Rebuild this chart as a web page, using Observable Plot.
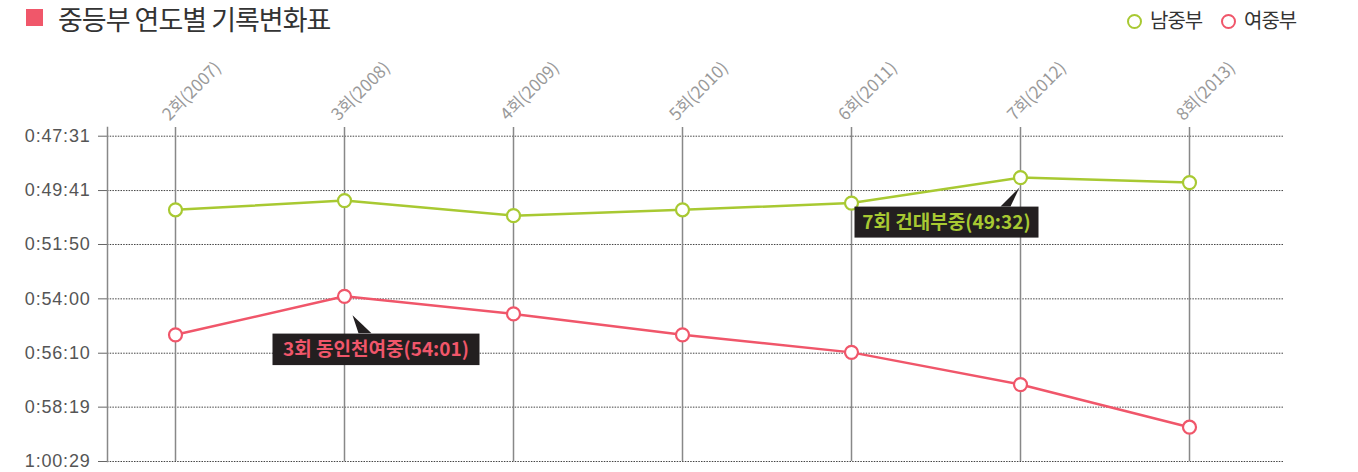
<!DOCTYPE html>
<html><head><meta charset="utf-8">
<script src="https://cdn.jsdelivr.net/npm/d3@7"></script>
<script src="https://cdn.jsdelivr.net/npm/@observablehq/plot@0.6"></script>
<style>
body{margin:0;background:#fff;font-family:"Noto Sans CJK KR",sans-serif;}
#wrap{position:relative;width:1358px;height:472px;overflow:hidden}
#head{position:relative;height:50px;}
#sq{position:absolute;left:26px;top:9px;width:17px;height:17px;background:#f0576a}
#title{position:absolute;left:58px;top:3px;font-size:27px;line-height:32px;color:#333;letter-spacing:-1px;white-space:nowrap}
.lg{position:absolute;top:6px;font-size:20px;color:#333;letter-spacing:-1px;white-space:nowrap;line-height:28px}
.lg i{display:inline-block;width:11px;height:11px;border-radius:50%;border:2.5px solid;margin-right:8px;vertical-align:-1px}
#chart svg{overflow:visible;display:block}
</style></head><body>
<div id="wrap">
  <div id="head">
    <div id="sq"></div>
    <div id="title">중등부 연도별 기록변화표</div>
    <div id="legend"></div>
  </div>
  <div id="chart"></div>
</div>
<script>
// categories (rounds)
const rounds = ["2회(2007)", "3회(2008)", "4회(2009)", "5회(2010)", "6회(2011)", "7회(2012)", "8회(2013)"];
// series names & colours
const seriesNames = ["남중부", "여중부"];
const seriesColors = ["#a8c932", "#f0566a"];
// series values: record time in seconds
const boysSec  = [3027, 3005, 3041, 3027, 3011, 2950, 2962];
const girlsSec = [3326, 3234, 3276, 3326, 3368, 3445, 3547];
// y tick values (seconds): 0:47:31 ... 1:00:29
const yTicks = [2851, 2981, 3110, 3240, 3370, 3499, 3629];
// annotations
const noteSeries = ["여중부", "남중부"];
const noteRounds = ["3회(2008)", "7회(2012)"];
const noteLabels = ["3회 동인천여중(54:01)", "7회 건대부중(49:32)"];

const fmt = s => {
  s = Math.round(s);
  const h = Math.floor(s / 3600), m = Math.floor((s % 3600) / 60), sec = s % 60;
  return `${h}:${String(m).padStart(2, "0")}:${String(sec).padStart(2, "0")}`;
};

const data = [];
rounds.forEach((r, i) => {
  data.push({round: r, series: seriesNames[0], t: boysSec[i]});
  data.push({round: r, series: seriesNames[1], t: girlsSec[i]});
});
const notes = noteLabels.map((label, i) => {
  const d = data.find(d => d.series === noteSeries[i] && d.round === noteRounds[i]);
  return {...d, label};
});
const colorOf = s => seriesColors[seriesNames.indexOf(s)];

// legend
const lg = document.getElementById("legend");
const lgLeft = [1127, 1221];
seriesNames.forEach((n, i) => {
  const el = document.createElement("div");
  el.className = "lg";
  el.style.left = lgLeft[i] + "px";
  el.innerHTML = `<i style="border-color:${seriesColors[i]}"></i>${n}`;
  lg.appendChild(el);
});

const chart = Plot.plot({
  width: 1358,
  height: 422,
  marginTop: 77,
  marginBottom: 11,
  marginLeft: 107,
  marginRight: 75,
  style: {fontFamily: "'Noto Sans CJK KR', sans-serif", background: "transparent", overflow: "visible"},
  x: {type: "point", domain: rounds, padding: 0, insetLeft: 68, insetRight: 94, axis: null},
  y: {type: "linear", domain: [yTicks[0], yTicks[yTicks.length - 1]], reverse: true, insetTop: 8.7, axis: null, label: null},
  marks: [
    Plot.gridY({ticks: yTicks, stroke: "#444", strokeOpacity: 1, strokeDasharray: "1.5,1.2"}),
    Plot.axisY({ticks: yTicks, tickFormat: fmt, label: null, tickSize: 9, tickPadding: 8, stroke: "#666", fill: "#555", fontSize: 18, fontFamily: "'Liberation Sans', Arial, sans-serif"}),
    Plot.frame({anchor: "left", stroke: "#888", strokeWidth: 1.5}),
    Plot.ruleX(rounds, {x: d => d, stroke: "#888", strokeWidth: 1.5}),
    Plot.text(rounds, {x: d => d, frameAnchor: "top", text: d => d, rotate: -45, textAnchor: "start", lineAnchor: "bottom", dx: -6, dy: -6, fill: "#999", fontSize: 17}),
    Plot.line(data, {x: "round", y: "t", z: "series", stroke: d => colorOf(d.series), strokeWidth: 2.5}),
    Plot.dot(data, {x: "round", y: "t", r: 6.5, fill: "white", stroke: d => colorOf(d.series), strokeWidth: 2.2}),
    Plot.text(notes, {x: "round", y: "t", text: "label", fill: d => colorOf(d.series), fontSize: 19, fontWeight: "bold"})
  ]
});
document.getElementById("chart").appendChild(chart);

const sx = chart.scale("x"), sy = chart.scale("y");
const svg = d3.select(chart);
svg.selectAll('[aria-label="y-axis tick label"] text').style("letter-spacing", "0.8px");

// note offsets relative to the data point (box centre / pointer geometry)
const noteBox = [
  {dx: 31.5, dy: 53, w: 207, h: 31.5, tip: [8, 19], base: [[14, 37], [27, 37]]},
  {dx: -74, dy: 44.5, w: 184, h: 31, tip: [-1, 10], base: [[-20, 29], [-10, 29]]}
];
const noteTexts = svg.selectAll("text").filter(function(){ return noteLabels.includes(this.textContent); });
noteTexts.each(function() {
  const i = noteLabels.indexOf(this.textContent);
  const d = notes[i], b = noteBox[i];
  const px = sx.apply(d.round), py = sy.apply(d.t);
  const g = d3.select(this.parentNode);
  d3.select(this).attr("x", px + b.dx).attr("y", py + b.dy).attr("dy", "0.36em").attr("text-anchor", "middle").attr("transform", null);
  g.insert("rect", function(){ return this.firstChild; })
    .attr("x", px + b.dx - b.w / 2).attr("y", py + b.dy - b.h / 2)
    .attr("width", b.w).attr("height", b.h).attr("fill", "#231f20");
  const tri = [[px + b.tip[0], py + b.tip[1]], [px + b.base[0][0], py + b.base[0][1]], [px + b.base[1][0], py + b.base[1][1]]];
  g.insert("path", function(){ return this.firstChild; })
    .attr("d", "M" + tri.map(p => p.join(",")).join("L") + "Z").attr("fill", "#231f20");
});
</script>
</body></html>
